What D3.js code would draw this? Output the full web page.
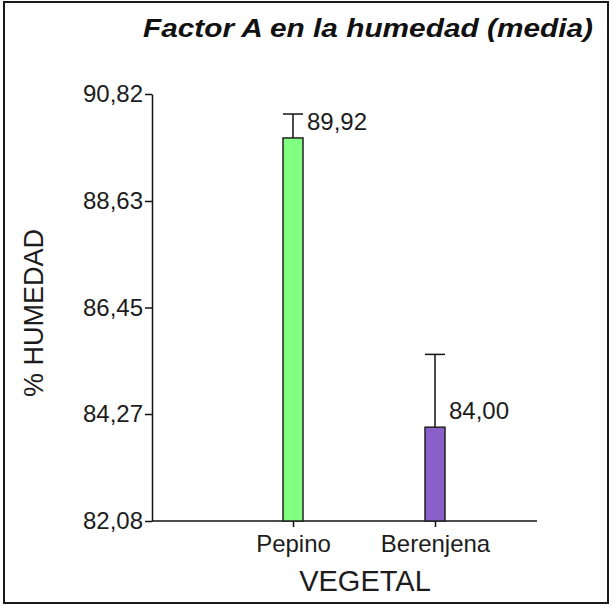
<!DOCTYPE html>
<html>
<head>
<meta charset="utf-8">
<script src="https://cdn.jsdelivr.net/npm/d3@7"></script>
<style>
  body { margin: 0; background: #fff; }
  svg { display: block; font-family: Arial, "Liberation Sans", sans-serif; }
</style>
</head>
<body>
<script>
// data
const categories = ['Pepino', 'Berenjena'];
const means = [89.92, 84.00];
const errors = [0.49, 1.49];
const barColors = ['#80ff80', '#8b5fc9'];
const yTicks = [82.08, 84.27, 86.45, 88.63, 90.82];

const W = 613, H = 606;

const svg = d3.select('body').append('svg')
  .attr('width', W)
  .attr('height', H);

svg.append('rect')
  .attr('x', 4).attr('y', 2)
  .attr('width', 604).attr('height', 601)
  .attr('fill', '#fff')
  .attr('stroke', '#1a1a1a')
  .attr('stroke-width', 2);

const plot = { left: 152, right: 537, top: 94, bottom: 521 };

const y = d3.scaleLinear()
  .domain([yTicks[0], yTicks[yTicks.length - 1]])
  .range([plot.bottom, plot.top]);

const x = d3.scalePoint()
  .domain(categories)
  .range([293, 435]);

const fmt = v => d3.format('.2f')(v).replace('.', ',');

// y axis
const yAxis = svg.append('g')
  .attr('transform', `translate(${plot.left},0)`)
  .call(d3.axisLeft(y)
    .tickValues(yTicks)
    .tickSizeInner(7)
    .tickSizeOuter(0)
    .tickPadding(2)
    .tickFormat(fmt));
yAxis.select('.domain').attr('stroke', '#111').attr('stroke-width', 1.5);
yAxis.selectAll('.tick line').attr('stroke', '#111').attr('stroke-width', 1.5);
yAxis.selectAll('.tick text')
  .attr('fill', '#1c1c1c')
  .style('font-size', '24px');

// x axis
const xAxis = svg.append('g')
  .attr('transform', `translate(0,${plot.bottom})`)
  .call(d3.axisBottom(x).tickSizeInner(6).tickSizeOuter(0).tickPadding(8));
xAxis.select('.domain').remove();
xAxis.append('line')
  .attr('x1', plot.left).attr('x2', plot.right)
  .attr('stroke', '#111').attr('stroke-width', 1.5);
xAxis.selectAll('.tick line').attr('stroke', '#111').attr('stroke-width', 1.5);
xAxis.selectAll('.tick text')
  .attr('fill', '#1c1c1c')
  .style('font-size', '24px');

const rows = categories.map((c, i) => ({ c, v: means[i], e: errors[i], col: barColors[i] }));
const bw = 20;

// error bars
const eb = svg.append('g').attr('stroke', '#111').attr('stroke-width', 1.5);
eb.selectAll('line.v').data(rows).join('line')
  .attr('class', 'v')
  .attr('x1', d => x(d.c)).attr('x2', d => x(d.c))
  .attr('y1', d => y(d.v)).attr('y2', d => y(d.v + d.e));
eb.selectAll('line.cap').data(rows).join('line')
  .attr('class', 'cap')
  .attr('x1', d => x(d.c) - bw / 2).attr('x2', d => x(d.c) + bw / 2)
  .attr('y1', d => y(d.v + d.e)).attr('y2', d => y(d.v + d.e));

// bars
svg.append('g').selectAll('rect').data(rows).join('rect')
  .attr('x', d => x(d.c) - bw / 2)
  .attr('y', d => y(d.v))
  .attr('width', bw)
  .attr('height', d => plot.bottom - y(d.v))
  .attr('fill', d => d.col)
  .attr('stroke', '#222')
  .attr('stroke-width', 1.5);

// value labels
svg.append('g').selectAll('text').data(rows).join('text')
  .attr('x', d => x(d.c) + 14)
  .attr('y', d => y(d.v) - 8)
  .attr('fill', '#1c1c1c')
  .style('font-size', '24px')
  .text(d => fmt(d.v));

// titles
svg.append('text')
  .attr('x', 143).attr('y', 37)
  .attr('textLength', 450)
  .attr('lengthAdjust', 'spacingAndGlyphs')
  .style('font-size', '25px')
  .style('font-weight', 'bold')
  .style('font-style', 'italic')
  .attr('fill', '#111')
  .text('Factor A en la humedad (media)');

svg.append('text')
  .attr('transform', 'translate(43,313) rotate(-90)')
  .attr('text-anchor', 'middle')
  .style('font-size', '27px')
  .attr('fill', '#1c1c1c')
  .text('% HUMEDAD');

svg.append('text')
  .attr('x', 365).attr('y', 591)
  .attr('text-anchor', 'middle')
  .style('font-size', '29px')
  .attr('fill', '#1c1c1c')
  .text('VEGETAL');
</script>
</body>
</html>
